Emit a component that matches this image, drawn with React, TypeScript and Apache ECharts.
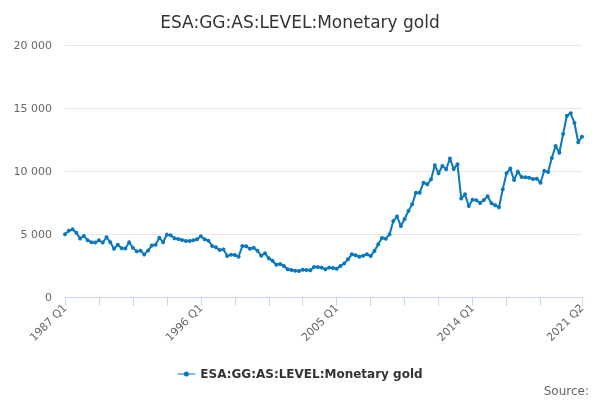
import React, { useEffect, useRef } from "react";
import * as echarts from "echarts";

const startYear = 1987;
const quarterCount = 138;
const categories: string[] = [];
for (let i = 0; i < quarterCount; i++) {
  categories.push(`${startYear + Math.floor(i / 4)} Q${(i % 4) + 1}`);
}

const values1987_1996: number[] = [
  4980, 5250, 5380, 5100, 4650, 4850, 4500, 4350, 4320, 4500,
  4320, 4740, 4350, 3830, 4150, 3870, 3850, 4350, 3900, 3620,
  3680, 3380, 3680, 4080, 4150, 4700, 4350, 4950, 4900, 4660,
  4600, 4520, 4440, 4440, 4500, 4580,
];
const values1996_2005: number[] = [
  4820, 4580, 4470, 4050, 3940, 3730, 3780, 3250, 3360, 3330,
  3200, 4050, 4020, 3830, 3910, 3670, 3280, 3470, 3070, 2880,
  2560, 2620, 2460, 2200, 2140, 2090, 2060, 2170, 2140, 2120,
  2380, 2380, 2330, 2200, 2330, 2300,
];
const values2005_2014: number[] = [
  2250, 2460, 2670, 2990, 3390, 3310, 3200, 3280, 3390, 3250,
  3650, 4180, 4680, 4630, 4970, 6030, 6400, 5630, 6190, 6830,
  7360, 8280, 8280, 9070, 8940, 9340, 10450, 9820, 10400, 10130,
  11000, 10160, 10540, 7820, 8150, 7220,
];
const values2014_2021: number[] = [
  7720, 7680, 7460, 7700, 7990, 7440, 7280, 7120, 8550, 9820,
  10190, 9290, 9950, 9520, 9500, 9470, 9370, 9390, 9070, 10020,
  9920, 11030, 11980, 11450, 12940, 14390, 14580, 13810, 12280, 12720,
];
const seriesValues: number[] = [
  ...values1987_1996,
  ...values1996_2005,
  ...values2005_2014,
  ...values2014_2021,
];

const seriesName = "ESA:GG:AS:LEVEL:Monetary gold";
const titleText = "ESA:GG:AS:LEVEL:Monetary gold";
const creditText = "Source:";
const yTicks = { min: 0, max: 20000, interval: 5000 };

const lineColor = "#0a78bf";
const font = "'DejaVu Sans', Verdana, sans-serif";

function fmt(v: number): string {
  return String(v).replace(/\B(?=(\d{3})+(?!\d))/g, " ");
}

export default function App() {
  const ref = useRef<HTMLDivElement>(null);
  useEffect(() => {
    if (!ref.current) return;
    const chart = echarts.init(ref.current, undefined, { renderer: "svg" });
    const last = categories.length - 1;
    chart.setOption({
      animation: false,
      textStyle: { fontFamily: font },
      title: {
        text: titleText,
        left: "center",
        top: 8,
        textStyle: { fontFamily: font, fontSize: 17, fontWeight: "normal", color: "#333333" },
      },
      legend: {
        bottom: 15,
        left: "center",
        itemWidth: 18,
        itemHeight: 8,
        itemGap: 6,
        data: [{ name: seriesName, icon: "path://M0,3.5 L18,3.5 L18,4.5 L0,4.5 Z M9,1.5 A2.5,2.5 0 1 1 9,6.5 A2.5,2.5 0 1 1 9,1.5 Z" }],
        textStyle: { fontFamily: font, fontSize: 12, fontWeight: "bold", color: "#333333" },
      },
      graphic: [
        {
          type: "text",
          right: 11,
          bottom: 3,
          style: { text: creditText, fontFamily: font, fontSize: 12, fill: "#666666" },
        },
      ],
      grid: { left: 65, right: 18, top: 45, bottom: 103, containLabel: false },
      xAxis: {
        type: "category",
        data: categories,
        boundaryGap: false,
        axisLine: { lineStyle: { color: "#ccd6eb" } },
        axisTick: {
          length: 9,
          lineStyle: { color: "#ccd6eb" },
          interval: (idx: number) => (idx % 9 === 0 && idx !== 135) || idx === last,
        },
        axisLabel: {
          rotate: 45,
          margin: 9,
          fontSize: 11,
          color: "#666666",
          fontFamily: font,
          interval: (idx: number) => idx % 36 === 0 || idx === last,
        },
        splitLine: { show: false },
      },
      yAxis: {
        type: "value",
        min: yTicks.min,
        max: yTicks.max,
        interval: yTicks.interval,
        axisLine: { show: false },
        axisTick: { show: false },
        axisLabel: {
          fontSize: 11,
          color: "#666666",
          fontFamily: font,
          margin: 13,
          formatter: (v: number) => fmt(v),
        },
        splitLine: { lineStyle: { color: "#e6e6e6" } },
      },
      series: [
        {
          name: seriesName,
          type: "line",
          data: seriesValues,
          color: lineColor,
          symbol: "circle",
          symbolSize: 4,
          showSymbol: true,
          showAllSymbol: true,
          lineStyle: { width: 2, color: lineColor },
          itemStyle: { color: lineColor },
        },
      ],
    });
    return () => chart.dispose();
  }, []);
  return (
    <div
      ref={ref}
      style={{ position: "fixed", left: 0, top: 0, width: 600, height: 400 }}
    />
  );
}
